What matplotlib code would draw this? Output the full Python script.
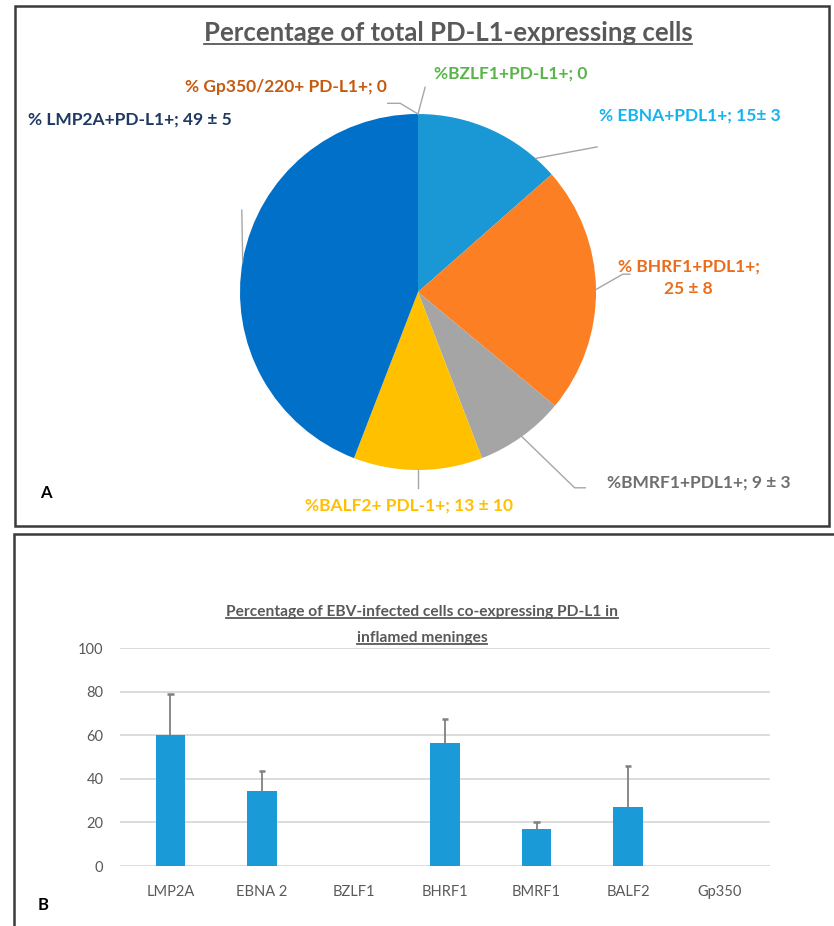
import numpy as np
import matplotlib
matplotlib.use("Agg")
import matplotlib.pyplot as plt
from matplotlib.patches import Rectangle
from matplotlib.lines import Line2D

plt.rcParams['font.family'] = ['Lato', 'DejaVu Sans']

# Panel A: pie (clockwise from 12 o'clock)
pie_names = ["EBNA", "BHRF1", "BMRF1", "BALF2", "LMP2A", "Gp350", "BZLF1"]
pie_values = [15, 25, 9, 13, 49, 0, 0]
pie_labels = ["% EBNA+PDL1+; 15± 3",
              "% BHRF1+PDL1+;\n25 ± 8",
              "%BMRF1+PDL1+; 9 ± 3",
              "%BALF2+ PDL-1+; 13 ± 10",
              "% LMP2A+PD-L1+; 49 ± 5",
              "% Gp350/220+ PD-L1+; 0",
              "%BZLF1+PD-L1+; 0"]
pie_colors = ["#1a98d5", "#fd7f23", "#a5a5a5", "#ffc000", "#0070c8", "#c55a11", "#70ad47"]
label_colors = ["#14b4ee", "#ea6d1c", "#6f6f6f", "#ffc000", "#1f3864", "#c55a11", "#5ab44a"]

# Panel B: bars
bar_names = ["LMP2A", "EBNA 2", "BZLF1", "BHRF1", "BMRF1", "BALF2", "Gp350"]
bar_values = [60, 34.5, 0, 56.5, 17, 27, 0]
bar_errors = [19, 9, 0, 11, 3, 19, 0]

W, H = 834, 926
fig = plt.figure(figsize=(W / 100, H / 100), dpi=100)


def fx(px):
    return px / W


def fy(py):
    return 1 - py / H


# panel frames
for (x0, y0, x1, y1) in [(15, 6, 829, 526), (14, 534, 850, 940)]:
    fig.add_artist(Rectangle((fx(x0), fy(y1)), fx(x1 - x0), (y1 - y0) / H,
                             transform=fig.transFigure, fill=False,
                             edgecolor="#3a3a3a", linewidth=1.8))

fig.text(fx(40), fy(493), "A", fontsize=12, fontweight="bold", ha="left", va="center")
fig.text(fx(38), fy(905), "B", fontsize=12, fontweight="bold", ha="left", va="center")

# ---- pie ----
cx, cy, r = 418, 292, 178
axp = fig.add_axes([fx(cx - r), fy(cy + r), fx(2 * r), 2 * r / H])
wedges, _ = axp.pie(pie_values, colors=pie_colors, startangle=90, counterclock=False,
                    wedgeprops=dict(linewidth=0))
axp.set_xlim(-1, 1)
axp.set_ylim(-1, 1)
axp.set_aspect("auto")

# label centre and leader path (in pie radius units), layout only
label_pos = {
    "EBNA": (1.53, 0.99),
    "BHRF1": (1.52, 0.08),
    "BMRF1": (1.58, -1.07),
    "BALF2": (-0.05, -1.20),
    "LMP2A": (-1.62, 0.97),
    "Gp350": (-0.74, 1.15),
    "BZLF1": (0.52, 1.23),
}
leader_tail = {
    "EBNA": [(1.006, 0.815)],
    "BHRF1": [(1.15, 0.10), (1.19, 0.10)],
    "BMRF1": [(0.88, -1.10), (0.94, -1.10)],
    "BALF2": [(0.0, -1.10)],
    "LMP2A": [(-0.99, 0.46)],
    "Gp350": [(-0.10, 1.06), (-0.17, 1.06)],
    "BZLF1": [(0.04, 1.15)],
}
leader_start_frac = {"EBNA": 0.15}

for w, name, lab, lc in zip(wedges, pie_names, pie_labels, label_colors):
    t1, t2 = w.theta1, w.theta2
    if name == "LMP2A":
        ang = np.deg2rad(170)
    else:
        ang = np.deg2rad(t1 + (t2 - t1) * leader_start_frac.get(name, 0.5))
    pts = [(np.cos(ang), np.sin(ang))] + leader_tail[name]
    xs, ys = zip(*pts)
    axp.add_line(Line2D(xs, ys, color="#a6a6a6", linewidth=1.0, clip_on=False))
    tx, ty = label_pos[name]
    axp.text(tx, ty, lab, color=lc, fontsize=12.5, fontweight="bold",
             ha="center", va="center", linespacing=1.5, clip_on=False)

title_a = fig.text(fx(448), fy(33), "Percentage of total PD-L1-expressing cells",
                   fontsize=18.5, fontweight="bold", color="#595959", ha="center", va="center")

# ---- bars ----
axb = fig.add_axes([fx(120), fy(866), fx(650), (866 - 648) / H])
x = np.arange(len(bar_names))
vals = np.array(bar_values)
errs = np.array(bar_errors)
axb.bar(x, vals, width=0.32, color="#1a9ad6", zorder=3)
has_err = errs > 0
axb.vlines(x[has_err], vals[has_err], (vals + errs)[has_err], color="#808080",
           linewidth=1.3, zorder=4)
axb.hlines((vals + errs)[has_err], x[has_err] - 0.035, x[has_err] + 0.035,
           color="#808080", linewidth=1.8, zorder=4)
axb.set_ylim(0, 100)
axb.set_xlim(-0.55, len(bar_names) - 0.45)
axb.set_yticks(range(0, 101, 20))
axb.set_xticks(x)
axb.set_xticklabels(bar_names)
axb.grid(axis="y", color="#d9d9d9", linewidth=1.3, zorder=0)
for s in axb.spines.values():
    s.set_visible(False)
axb.tick_params(length=0, colors="#595959", labelsize=10.5)
axb.tick_params(axis="x", pad=14)
axb.tick_params(axis="y", pad=12)

title_b1 = fig.text(fx(422), fy(612), "Percentage of EBV-infected cells co-expressing PD-L1 in",
                    fontsize=11.2, fontweight="bold", color="#595959", ha="center", va="center")
title_b2 = fig.text(fx(422), fy(638), "inflamed meninges",
                    fontsize=11.2, fontweight="bold", color="#595959", ha="center", va="center")

# underline the titles
fig.canvas.draw()
rend = fig.canvas.get_renderer()
for t in [title_a, title_b1, title_b2]:
    bb = t.get_window_extent(rend)
    yline = bb.y0 + 1
    fig.add_artist(Line2D([bb.x0 / W, bb.x1 / W], [yline / H, yline / H],
                          transform=fig.transFigure, color="#595959", linewidth=1.3))

fig.savefig("out.png", dpi=100)
